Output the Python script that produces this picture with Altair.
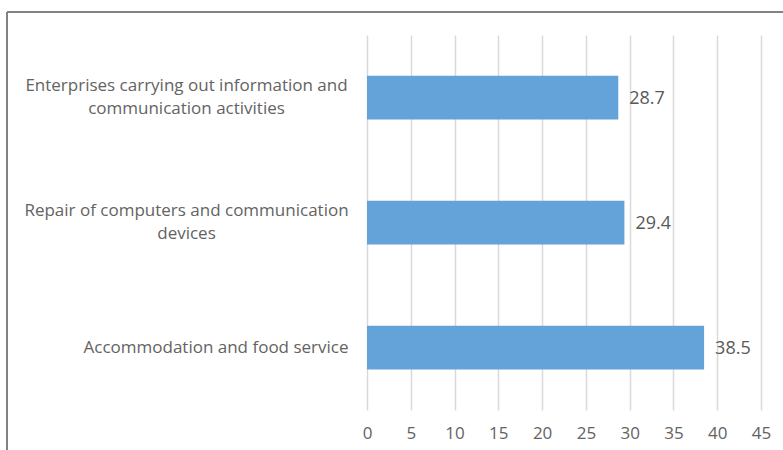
import altair as alt
import pandas as pd

categories = [
    "Enterprises carrying out information and|communication activities",
    "Repair of computers and communication|devices",
    "Accommodation and food service",
]
values = [28.7, 29.4, 38.5]
x_ticks = [0, 5, 10, 15, 20, 25, 30, 35, 40, 45]

df = pd.DataFrame({"category": categories, "value": values})

FONT = "Open Sans"
single = "indexof(datum.value, '|') < 0"

y_enc = alt.Y(
    "category:N",
    sort=categories,
    title=None,
    scale=alt.Scale(paddingInner=0.65, paddingOuter=0.325),
    axis=alt.Axis(
        domain=False,
        ticks=False,
        grid=False,
        labelExpr="split(datum.value, '|')",
        labelFont=FONT,
        labelFontSize=17,
        labelColor="#636363",
        labelLineHeight=23,
        labelLimit=400,
        labelAlign={"condition": {"test": single, "value": "right"}, "value": "center"},
        labelPadding={"condition": {"test": single, "value": 19}, "value": 181},
        labelOffset={"condition": {"test": single, "value": 0}, "value": -11.5},
    ),
)
x_enc = alt.X(
    "value:Q",
    title=None,
    scale=alt.Scale(domain=[0, 45], nice=False),
    axis=alt.Axis(
        values=x_ticks,
        domain=False,
        ticks=False,
        grid=True,
        gridColor="#d9d9d9",
        gridWidth=1.5,
        labelFont=FONT,
        labelFontSize=17,
        labelColor="#636363",
        labelPadding=15,
        labelFlush=False,
    ),
)

bars = alt.Chart(df).mark_bar(color="#63a3da").encode(x=x_enc, y=y_enc)
labels = alt.Chart(df).mark_text(
    align="left", baseline="middle", dx=11, dy=1, font=FONT, fontSize=18, color="#595959"
).encode(x="value:Q", y=alt.Y("category:N", sort=categories), text=alt.Text("value:Q", format=".1f"))

frame_left = alt.Chart(df).mark_rule(color="#808080", strokeWidth=1.5).encode(
    x=alt.value(-360), y=alt.value(-23), y2=alt.value(420)
)
frame_top = alt.Chart(df).mark_rule(color="#808080", strokeWidth=1.5).encode(
    x=alt.value(-360), x2=alt.value(420), y=alt.value(-23)
)

chart = alt.layer(bars, labels, frame_left, frame_top).properties(
    width=394,
    height=375,
    autosize=alt.AutoSizeParams(type="none"),
    padding={"left": 367, "top": 35, "right": 22, "bottom": 40},
    background="white",
).configure_view(stroke=None)

chart.save("out.html", embed_options={"renderer": "svg", "actions": False})
